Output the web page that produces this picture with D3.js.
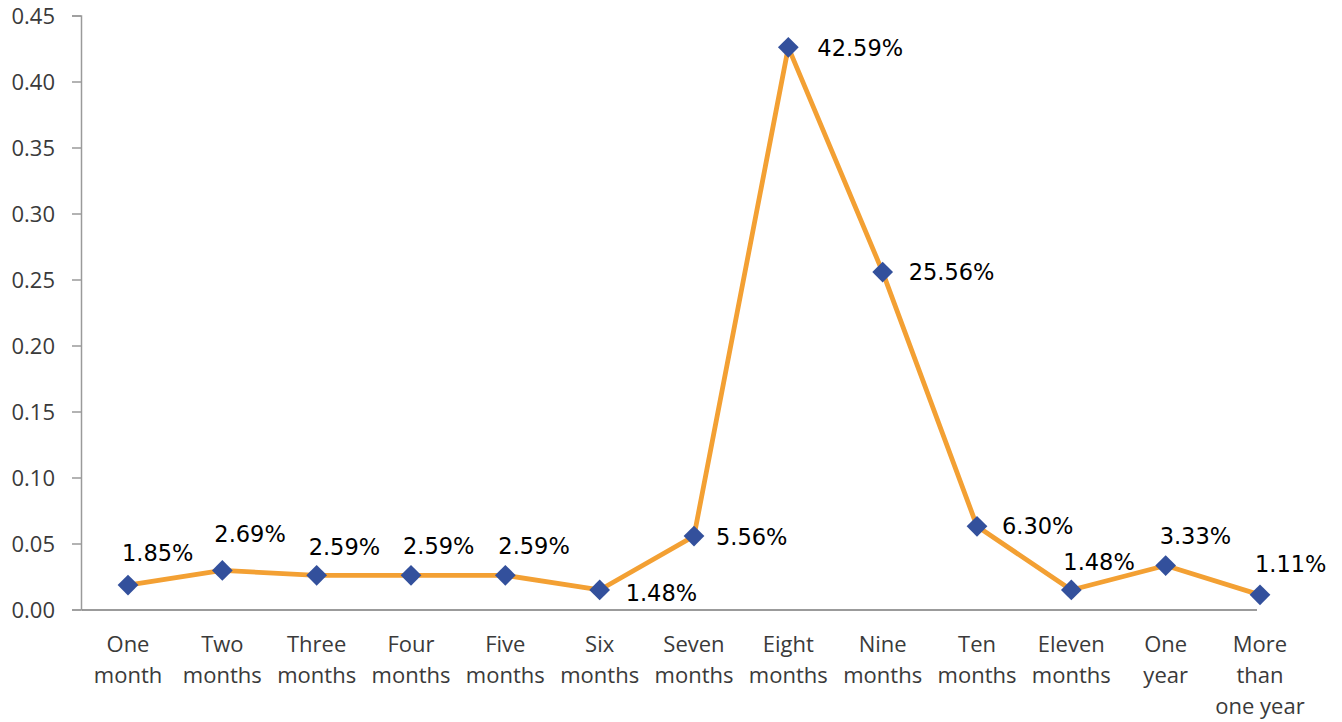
<!DOCTYPE html>
<html>
<head>
<meta charset="utf-8">
<script src="https://cdn.jsdelivr.net/npm/d3@7"></script>
<style>
  body { margin: 0; background: #fff; }
  .tick-label { font-family: "Open Sans", sans-serif; font-size: 22px; fill: #3a3a3a; }
  .data-label { font-family: "DejaVu Sans", sans-serif; font-size: 22.5px; fill: #000; }
</style>
</head>
<body>
<script>
// ---------------------- DATA ----------------------

const categories = [
    ["One", "month"], ["Two", "months"], ["Three", "months"], ["Four", "months"],
    ["Five", "months"], ["Six", "months"], ["Seven", "months"], ["Eight", "months"],
    ["Nine", "months"], ["Ten", "months"], ["Eleven", "months"], ["One", "year"],
    ["More", "than", "one year"]
];
const values = [0.0185, 0.0296, 0.0259, 0.0259, 0.0259, 0.0148, 0.0556,
                0.4259, 0.2556, 0.0630, 0.0148, 0.0333, 0.0111];
const valueLabels = ["1.85%", "2.69%", "2.59%", "2.59%", "2.59%", "1.48%", "5.56%",
                     "42.59%", "25.56%", "6.30%", "1.48%", "3.33%", "1.11%"];
const yTicks = [0, 0.05, 0.10, 0.15, 0.20, 0.25, 0.30, 0.35, 0.40, 0.45];

// label offsets from each marker (text start, baseline)
const labelOffsets = [[-6, -24], [-8, -28], [-8, -20], [-8, -21], [-7, -21], [26, 11], [22, 9],
                      [29, 9], [26, 8], [25, 8], [-8, -20], [-6, -22], [-5, -23]];

// ---------------------- CHART ----------------------

const width = 1342, height = 722;
const svg = d3.select("body").append("svg")
    .attr("width", width)
    .attr("height", height);

const keys = categories.map(c => c.join(" "));

const x = d3.scalePoint()
    .domain(keys)
    .range([128, 1260]);

const y = d3.scaleLinear()
    .domain([0, 0.45])
    .range([609.5, 15.5]);

// y axis
const yAxis = svg.append("g")
    .attr("transform", "translate(81,0)")
    .call(d3.axisLeft(y).tickValues(yTicks).tickFormat(d3.format(".2f")).tickSize(9).tickPadding(17));
yAxis.select(".domain").attr("stroke", "#9a9a9a").attr("stroke-width", 1.5);
yAxis.selectAll(".tick line").attr("stroke", "#9a9a9a").attr("stroke-width", 1.5);
yAxis.selectAll(".tick text").attr("class", "tick-label").attr("font-size", null)
    .attr("font-family", null).attr("dy", "0.36em");

// x axis line
svg.append("line")
    .attr("x1", 82).attr("x2", x(keys[keys.length - 1]) - 3)
    .attr("y1", y(0) + 0.5).attr("y2", y(0) + 0.5)
    .attr("stroke", "#7a7a7a").attr("stroke-width", 1.5);

// category labels
const catG = svg.append("g").selectAll("text")
    .data(categories)
    .enter().append("text")
    .attr("class", "tick-label")
    .attr("text-anchor", "middle")
    .attr("x", (d, i) => x(keys[i]))
    .attr("y", 652);
catG.selectAll("tspan")
    .data(d => d)
    .enter().append("tspan")
    .attr("x", function() { return d3.select(this.parentNode).attr("x"); })
    .attr("dy", (d, i) => i === 0 ? 0 : 31)
    .text(d => d);

// line
const points = values.map((v, i) => ({ key: keys[i], value: v, label: valueLabels[i], off: labelOffsets[i] }));

svg.append("path")
    .datum(points)
    .attr("fill", "none")
    .attr("stroke", "#F3A033")
    .attr("stroke-width", 4.8)
    .attr("stroke-linejoin", "round")
    .attr("d", d3.line().x(d => x(d.key)).y(d => y(d.value)));

// markers
svg.selectAll(".marker")
    .data(points)
    .enter().append("path")
    .attr("class", "marker")
    .attr("d", d3.symbol().type(d3.symbolSquare).size(215))
    .attr("transform", d => `translate(${x(d.key)},${y(d.value)}) rotate(45)`)
    .attr("fill", "#33509C");

// data labels
svg.selectAll(".data-label")
    .data(points)
    .enter().append("text")
    .attr("class", "data-label")
    .attr("x", d => x(d.key) + d.off[0])
    .attr("y", d => y(d.value) + d.off[1])
    .text(d => d.label);
</script>
</body>
</html>
